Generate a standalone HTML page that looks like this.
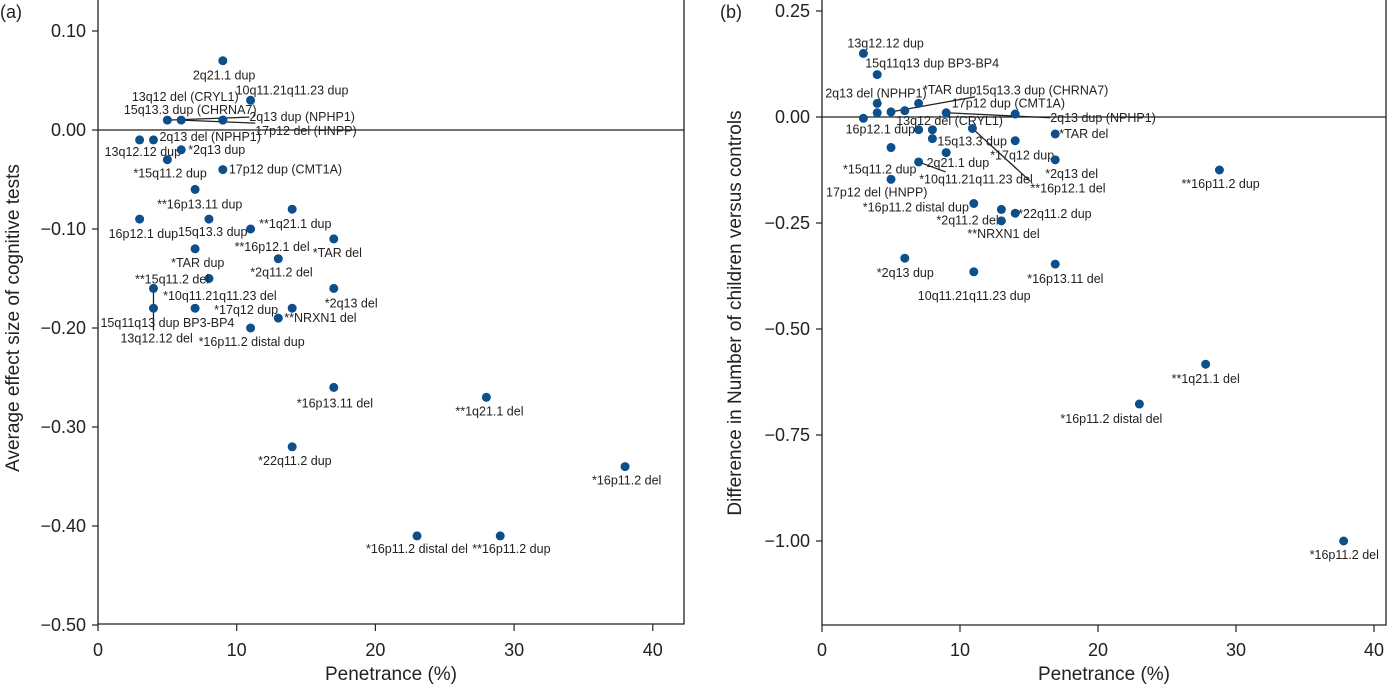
<!DOCTYPE html>
<html><head><meta charset="utf-8"><style>
body{margin:0;background:#fff;}
svg{display:block;font-family:"Liberation Sans",sans-serif;}
.t{font-size:18px;fill:#222}
.tt{font-size:19px;fill:#222}
.l{font-size:12.5px;fill:#222}
</style></head><body>
<svg id="chart" width="1400" height="688" viewBox="0 0 1400 688" xmlns="http://www.w3.org/2000/svg"></svg>
<script>
const xTicks=[0,10,20,30,40];
const aYTicks=[0.10,0.00,-0.10,-0.20,-0.30,-0.40,-0.50];
const aYTickLabels=["0.10","0.00","\u22120.10","\u22120.20","\u22120.30","\u22120.40","\u22120.50"];
const aNames=["2q21.1 dup","10q11.21q11.23 dup","13q12 del (CRYL1)","15q13.3 dup (CHRNA7)","2q13 dup (NPHP1)","17p12 del (HNPP)","13q12.12 dup","2q13 del (NPHP1)","*2q13 dup","*15q11.2 dup","17p12 dup (CMT1A)","**16p13.11 dup","16p12.1 dup","15q13.3 dup","**1q21.1 dup","**16p12.1 del","*TAR del","*TAR dup","*2q11.2 del","**15q11.2 del","13q12.12 del","15q11q13 dup BP3-BP4","*10q11.21q11.23 del","*17q12 dup","**NRXN1 del","*16p11.2 distal dup","*2q13 del","*16p13.11 del","**1q21.1 del","*22q11.2 dup","*16p11.2 del","*16p11.2 distal del","**16p11.2 dup"];
const aPen=[9,11,9,9,5,6,3,4,6,5,9,7,3,8,14,11,17,7,13,8,4,4,7,14,13,11,17,17,28,14,38,23,29];
const aEffect=[0.07,0.03,0.01,0.01,0.01,0.01,-0.01,-0.01,-0.02,-0.03,-0.04,-0.06,-0.09,-0.09,-0.08,-0.10,-0.11,-0.12,-0.13,-0.15,-0.16,-0.18,-0.18,-0.18,-0.19,-0.20,-0.16,-0.26,-0.27,-0.32,-0.34,-0.41,-0.41];
const aOff=[[-30,19],[-15,-6],[-91,-19],[-99,-6],[82,1],[74,15],[-35,16],[6,1],[7,4],[-34,18],[6,4],[-38,19],[-31,19],[-31,17],[-33,19],[-16,22],[-21,18],[-24,18],[-28,18],[-74,5],[-33,54],[-53,19],[-32,-8],[-78,6],[6,4],[-52,18],[-9,19],[-37,20],[-31,18],[-34,18],[-33,18],[-51,17],[-28,17]];
const aLeaders={4:[82,-3],5:[74,3],20:[0,42]};

const bYTicks=[0.25,0,-0.25,-0.5,-0.75,-1.0];
const bYTickLabels=["0.25","0.00","\u22120.25","\u22120.50","\u22120.75","\u22121.00"];
const bNames=["13q12.12 dup","15q11q13 dup BP3-BP4","2q13 del (NPHP1)","13q12 del (CRYL1)","*TAR dup","17p12 dup (CMT1A)","15q13.3 dup (CHRNA7)","2q13 dup (NPHP1)","","","16p12.1 dup","","15q13.3 dup","**16p12.1 del","*15q11.2 dup","*17q12 dup","*TAR del","*2q13 del","2q21.1 dup","*10q11.21q11.23 del","17p12 del (HNPP)","*16p11.2 distal dup","*2q11.2 del","*22q11.2 dup","**NRXN1 del","*2q13 dup","10q11.21q11.23 dup","*16p13.11 del","**16p11.2 dup","**1q21.1 del","*16p11.2 distal del","*16p11.2 del"];
const bPen=[3,4,4,4,5,6,7,9,14,3,7,8,8,10.9,5,14,16.9,16.9,7,9,5,11,13,14,13,6,11,16.9,28.8,27.8,23,37.8];
const bDiff=[0.15,0.10,0.032,0.01,0.012,0.015,0.032,0.01,0.007,-0.003,-0.03,-0.03,-0.051,-0.027,-0.072,-0.056,-0.04,-0.101,-0.106,-0.084,-0.147,-0.204,-0.218,-0.227,-0.245,-0.333,-0.365,-0.347,-0.125,-0.583,-0.677,-1.0];
const bOff=[[-16,-6],[-12,-7],[-52,-6],[19,12],[32,-18],[47,-3],[57,-9],[104,9],[0,0],[0,0],[-73,4],[0,0],[5,7],[58,64],[-48,26],[-25,19],[4,4],[-10,18],[8,5],[-27,31],[-65,17],[-111,8],[-65,15],[3,5],[-34,17],[-28,19],[-56,28],[-28,19],[-38,18],[-34,19],[-79,19],[-34,18]];
const bLeaders={4:[84,-15],7:[104,5],13:[58,53],18:[27,10]};

const NS="http://www.w3.org/2000/svg";
const svg=document.getElementById('chart');
function mk(tag,attrs,parent){const e=document.createElementNS(NS,tag);for(const k in attrs)e.setAttribute(k,attrs[k]);(parent||svg).appendChild(e);return e;}

function panel(p){
  const g=mk('g',{});
  
  
  const sx=v=>p.x0+v*p.kx, sy=v=>p.y0-v*p.ky;
  const zl=mk('line',{x1:p.left,x2:p.right,y1:sy(0),y2:sy(0),stroke:'#222','stroke-width':1.3},g);
  
  
  const fr=mk('path',{d:`M${p.left},0 V${p.bottom} H${p.right} V0`,fill:'none',stroke:'#222','stroke-width':1.3},g);
  
  
  xTicks.forEach(v=>{
    mk('line',{x1:sx(v),x2:sx(v),y1:p.bottom,y2:p.bottom+7,stroke:'#222','stroke-width':1.2},g);
    const t=mk('text',{x:sx(v),y:656,'text-anchor':'middle',class:'t'},g);
    t.textContent=v;
    
    
  });
  p.yt.forEach((v,i)=>{
    mk('line',{x1:p.left-6,x2:p.left,y1:sy(v),y2:sy(v),stroke:'#222','stroke-width':1.2},g);
    const t=mk('text',{x:p.left-12,y:sy(v)+6,'text-anchor':'end',class:'t'},g);
    t.textContent=p.ytl[i];
    
    
  });
  for(const k in p.leaders){
    const i=+k,L=p.leaders[k];
    const ln=mk('line',{x1:sx(p.xs[i]),y1:sy(p.ys[i]),x2:sx(p.xs[i])+L[0],y2:sy(p.ys[i])+L[1],stroke:'#222','stroke-width':1.3},g);
    
    
  }
  p.xs.forEach((v,i)=>{
    const c=mk('circle',{cx:sx(v),cy:sy(p.ys[i]),r:4.5,fill:'#0d4f8b'},g);
    
    
    if(p.names[i]){
      const t=mk('text',{x:sx(v)+p.off[i][0],y:sy(p.ys[i])+p.off[i][1],class:'l'},g);
      t.textContent=p.names[i];
      
      
    }
  });
  const xt=mk('text',{x:(p.left+p.right)/2,y:680,'text-anchor':'middle',class:'tt'},g);
  xt.textContent='Penetrance (%)';
  
  
  const yt=mk('text',{x:0,y:0,'text-anchor':'middle',class:'tt',transform:`translate(${p.ytx},${p.ytc}) rotate(-90)`},g);
  yt.textContent=p.ytitle;
  
  
  const pl=mk('text',{x:p.plx,y:18,class:'t'},g);
  pl.textContent=p.plabel;
  
  
}
panel({id:'a',x0:98,kx:13.87,y0:130,ky:990,left:98,right:684,bottom:624,yt:aYTicks,ytl:aYTickLabels,
  xs:aPen,ys:aEffect,names:aNames,off:aOff,leaders:aLeaders,ytitle:'Average effect size of cognitive tests',ytx:19,ytc:318,plabel:'(a)',plx:0});
panel({id:'b',x0:822,kx:13.8,y0:117,ky:424,left:822,right:1386,bottom:625,yt:bYTicks,ytl:bYTickLabels,
  xs:bPen,ys:bDiff,names:bNames,off:bOff,leaders:bLeaders,ytitle:'Difference in Number of children versus controls',ytx:741,ytc:313,plabel:'(b)',plx:720});
</script>
</body></html>
